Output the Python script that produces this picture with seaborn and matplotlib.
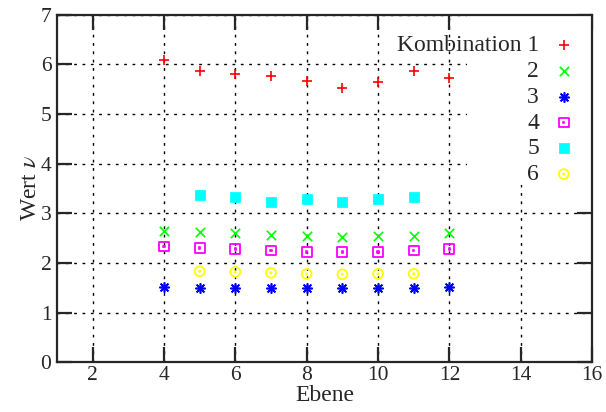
import numpy as np
import matplotlib
matplotlib.use("Agg")
import matplotlib.pyplot as plt
from matplotlib.path import Path
from matplotlib.patches import Rectangle
import seaborn as sns

sns.set_style("ticks")
plt.rcParams.update({
    "font.family": "serif",
    "font.serif": ["Liberation Serif", "DejaVu Serif"],
    "mathtext.fontset": "stix",
    "font.size": 15.5,
    "axes.labelsize": 17,
    "axes.linewidth": 1.6,
    "xtick.major.width": 1.6,
    "ytick.major.width": 1.6,
    "xtick.major.size": 11,
    "ytick.major.size": 11,
    "xtick.direction": "in",
    "ytick.direction": "in",
    "xtick.top": True,
    "ytick.right": True,
})

# data
x_full = [4, 5, 6, 7, 8, 9, 10, 11, 12]
x_mid = [5, 6, 7, 8, 9, 10, 11]
komb1 = [6.08, 5.87, 5.80, 5.77, 5.67, 5.52, 5.65, 5.87, 5.72]
komb2 = [2.65, 2.62, 2.60, 2.57, 2.55, 2.52, 2.55, 2.55, 2.60]
komb3 = [1.52, 1.50, 1.50, 1.49, 1.49, 1.49, 1.49, 1.50, 1.52]
komb4 = [2.33, 2.30, 2.28, 2.25, 2.22, 2.22, 2.22, 2.25, 2.28]
komb5 = [3.37, 3.33, 3.23, 3.28, 3.22, 3.28, 3.33]
komb6 = [1.83, 1.82, 1.80, 1.78, 1.77, 1.78, 1.78]
labels = ["Kombination 1", "2", "3", "4", "5", "6"]

# gnuplot-like markers with a centre dot
sq = Path.unit_rectangle()
dot_sq = Path.make_compound_path(
    Path(sq.vertices - 0.5, sq.codes),
    Path((sq.vertices - 0.5) * 0.12, sq.codes))
circ = Path.unit_circle()
dot_circ = Path.make_compound_path(
    circ, Path(sq.vertices - 0.5, sq.codes).transformed(
        matplotlib.transforms.Affine2D().scale(0.2)))

series = [
    (x_full, komb1, "#ff0000", "+", True),
    (x_full, komb2, "#00ff00", "x", True),
    (x_full, komb3, "#0000ff", (8, 2, 0), True),
    (x_full, komb4, "#ff00ff", dot_sq, False),
    (x_mid, komb5, "#00ffff", "s", True),
    (x_mid, komb6, "#ffff00", dot_circ, False),
]

fig = plt.figure(figsize=(6.06, 4.12), dpi=100)
ax = fig.add_axes([0.094, 0.121, 0.883, 0.843])

for (xs, ys, col, mk, filled), lab in zip(series, labels):
    if filled and mk == "s":
        kw = dict(color=col, edgecolor=col, s=45)
    elif filled:
        kw = dict(color=col, s=45, linewidth=1.2)
    else:
        kw = dict(facecolor="none", edgecolor=col, s=50, linewidth=1.3)
    sns.scatterplot(x=xs, y=ys, marker=mk, ax=ax, zorder=4, label=lab, **kw)

ax.set_xlim(1, 16)
ax.set_ylim(0, 7)
ax.set_xticks(range(2, 17, 2))
ax.set_yticks(range(0, 8))
ax.grid(True, color="black", linestyle=(0, (2, 4)), linewidth=1.0)
ax.set_axisbelow(True)
ax.add_patch(Rectangle((12.5, 3.57), 3.5, 3.43, facecolor="white",
                       edgecolor="none", zorder=1.5))
ax.set_xlabel("Ebene", labelpad=0)
ax.set_ylabel(r"Wert $\nu$", labelpad=0)
ax.tick_params(axis="x", pad=3)
ax.tick_params(axis="y", pad=4)

leg = ax.legend(loc="upper right", markerfirst=False, frameon=False,
                fontsize=17, handletextpad=0.55, labelspacing=0.18,
                borderaxespad=0.3, handlelength=1.0,
                bbox_to_anchor=(1.0, 0.99))

fig.savefig("out.png", dpi=100)
